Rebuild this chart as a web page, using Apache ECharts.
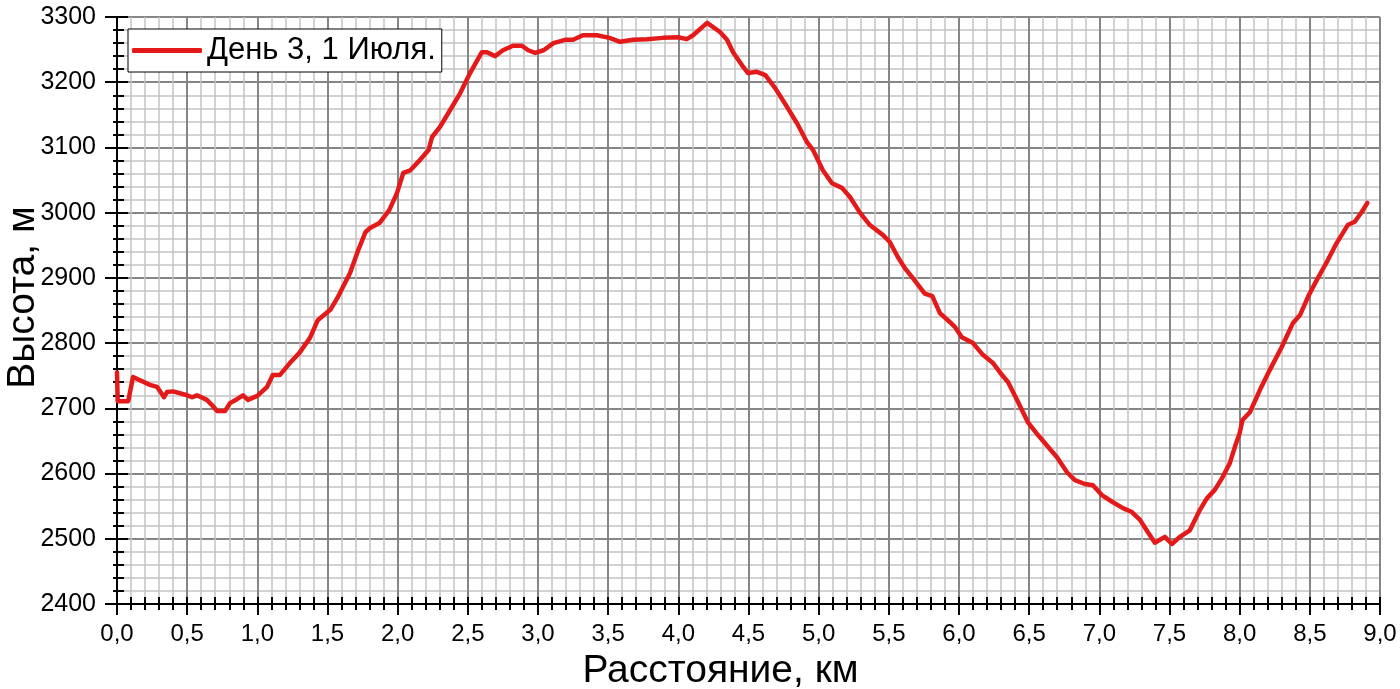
<!DOCTYPE html>
<html><head><meta charset="utf-8">
<script src="https://cdn.jsdelivr.net/npm/echarts@6/dist/echarts.min.js"></script>
<style>html,body{margin:0;padding:0;background:#fff}#c{width:1400px;height:689px}</style>
</head><body><div id="c"></div>
<script>
const seriesName = 'День 3, 1 Июля.';
const xTitle = 'Расстояние, км';
const yTitle = 'Высота, м';
const distanceKm = [0.00,0.005,0.08,0.114,0.235,0.285,0.335,0.356,0.40,0.50,0.535,0.57,0.64,0.677,0.713,0.77,0.805,0.855,0.898,0.933,1.00,1.07,1.11,1.16,1.23,1.30,1.375,1.43,1.52,1.575,1.61,1.66,1.72,1.77,1.80,1.87,1.94,1.995,2.04,2.09,2.16,2.22,2.245,2.30,2.373,2.445,2.516,2.60,2.637,2.694,2.75,2.822,2.886,2.93,2.98,3.04,3.11,3.193,3.25,3.32,3.42,3.51,3.585,3.677,3.777,3.89,4.0,4.06,4.105,4.205,4.297,4.347,4.39,4.454,4.497,4.56,4.62,4.69,4.775,4.846,4.917,4.96,5.03,5.095,5.166,5.223,5.294,5.365,5.457,5.507,5.564,5.614,5.67,5.756,5.81,5.864,5.936,5.97,6.02,6.10,6.17,6.24,6.307,6.35,6.413,6.49,6.563,6.634,6.698,6.77,6.826,6.897,6.954,7.018,7.097,7.168,7.232,7.29,7.346,7.396,7.467,7.517,7.574,7.645,7.716,7.766,7.823,7.88,7.93,7.966,8.00,8.02,8.073,8.144,8.215,8.30,8.38,8.43,8.487,8.55,8.62,8.69,8.77,8.82,8.87,8.91];
const elevationM = [2755,2711,2711,2748,2736,2733,2717,2725,2726,2720,2717,2720,2713,2705,2696,2696,2708,2714,2720,2713,2719,2733,2751,2751,2769,2785,2808,2835,2851,2871,2886,2907,2943,2970,2976,2984,3004,3030,3061,3065,3081,3096,3116,3131,3157,3183,3214,3246,3246,3240,3249,3256,3256,3249,3245,3249,3260,3265,3265,3272,3272,3268,3262,3265,3266,3268,3269,3266,3272,3291,3277,3265,3246,3226,3214,3216,3211,3191,3162,3137,3108,3096,3065,3045,3038,3024,3000,2981,2966,2955,2932,2915,2900,2876,2872,2846,2832,2825,2809,2800,2782,2770,2751,2740,2713,2679,2659,2641,2625,2602,2590,2584,2582,2567,2556,2547,2541,2529,2510,2494,2503,2492,2503,2513,2544,2562,2575,2595,2616,2641,2662,2682,2694,2728,2759,2794,2831,2843,2871,2897,2924,2953,2981,2986,3001,3015];
const xRange = [0, 9];
const yRange = [2400, 3300];

const data = distanceKm.map((d, i) => [d, elevationM[i]]);
const FONT = 'Liberation Sans';
const chart = echarts.init(document.getElementById('c'), null, {renderer: 'canvas'});
const majorGrid = {show: true, lineStyle: {color: '#868686', width: 2}};
const minorGrid = {show: true, lineStyle: {color: '#c4c4c4', width: 1.5}};
const axisLine = {show: true, onZero: false, lineStyle: {color: '#000', width: 2}};
chart.setOption({
  animation: false,
  backgroundColor: '#fff',
  grid: {left: 117, right: 20, top: 17, bottom: 85, containLabel: false, outerBoundsMode: 'none'},
  legend: {
    left: 128, top: 29, orient: 'horizontal',
    backgroundColor: '#fff', borderColor: '#000', borderWidth: 1,
    padding: [6, 6, 6, 4], itemGap: 0,
    icon: 'roundRect', itemWidth: 70, itemHeight: 5, selectedMode: false,
    textStyle: {fontFamily: FONT, fontSize: 31, color: '#000'},
    data: [seriesName]
  },
  xAxis: [{
    type: 'value', min: xRange[0], max: xRange[1], interval: 0.5, position: 'bottom',
    name: xTitle, nameLocation: 'middle', nameGap: 48, nameMoveOverlap: false,
    nameTextStyle: {fontFamily: FONT, fontSize: 39, color: '#000', padding: [0, 56, 0, 0]},
    axisLine: axisLine,
    axisTick: {show: true, inside: false, length: 11, lineStyle: {color: '#000', width: 2}},
    minorTick: {show: true, splitNumber: 5, length: 6, lineStyle: {color: '#000', width: 2}},
    axisLabel: {margin: 18, fontFamily: FONT, fontSize: 24, color: '#000',
      formatter: v => v.toFixed(1).replace('.', ',')},
    splitLine: majorGrid, minorSplitLine: minorGrid
  }, {
    type: 'value', min: xRange[0], max: xRange[1], interval: 0.5, position: 'bottom',
    axisLine: {show: false},
    axisTick: {show: true, inside: true, length: 7, lineStyle: {color: '#000', width: 2}},
    minorTick: {show: true, splitNumber: 5, length: 7, lineStyle: {color: '#000', width: 2}},
    axisLabel: {show: false}, splitLine: {show: false}
  }],
  yAxis: [{
    type: 'value', min: yRange[0], max: yRange[1], interval: 100, position: 'left',
    name: yTitle, nameLocation: 'middle', nameGap: 74, nameMoveOverlap: false,
    nameTextStyle: {fontFamily: FONT, fontSize: 39, color: '#000', padding: [0, 0, 0, 26]},
    axisLine: axisLine,
    axisTick: {show: true, inside: false, length: 12, lineStyle: {color: '#000', width: 2}},
    minorTick: {show: true, splitNumber: 5, length: 4, lineStyle: {color: '#000', width: 2}},
    axisLabel: {margin: 21, fontFamily: FONT, fontSize: 25, color: '#000',
      formatter: v => String(v)},
    splitLine: majorGrid, minorSplitLine: minorGrid
  }, {
    type: 'value', min: yRange[0], max: yRange[1], interval: 100, position: 'left',
    axisLine: {show: false},
    axisTick: {show: true, inside: true, length: 11, lineStyle: {color: '#000', width: 2}},
    minorTick: {show: true, splitNumber: 5, length: 7, lineStyle: {color: '#000', width: 2}},
    axisLabel: {show: false}, splitLine: {show: false}
  }],
  series: [{
    name: seriesName, type: 'line', xAxisIndex: 0, yAxisIndex: 0,
    data: data, showSymbol: false, symbol: 'none', smooth: false,
    itemStyle: {color: '#e41a1a'},
    lineStyle: {color: '#e41a1a', width: 4.5, cap: 'round', join: 'round'},
    z: 5
  }]
});
</script></body></html>
